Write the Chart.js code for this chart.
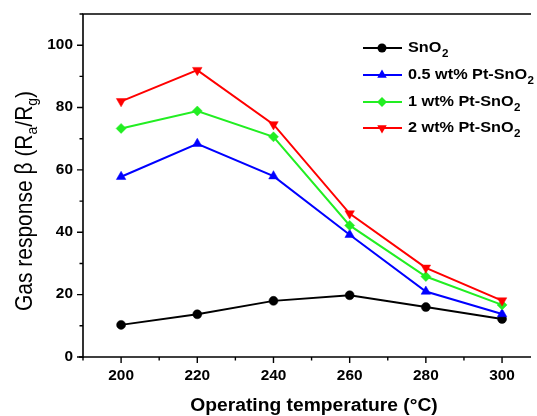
<!DOCTYPE html>
<html><head><meta charset="utf-8">
<script src="https://cdn.jsdelivr.net/npm/chart.js@4/dist/chart.umd.min.js"></script>
<style>html,body{margin:0;padding:0;background:#fff}#wrap{width:537px;height:416px}</style>
</head><body><div id="wrap"><canvas id="c" width="537" height="416"></canvas></div>
<script>
const temperatures = [200, 220, 240, 260, 280, 300];
const sno2 = [10.3, 13.7, 18.0, 19.8, 16.0, 12.2];
const pt05 = [57.8, 68.4, 58.0, 39.2, 21.0, 13.8];
const pt1 = [73.3, 78.9, 70.6, 42.2, 25.8, 16.7];
const pt2 = [82.0, 92.0, 74.6, 46.0, 28.6, 18.1];
const seriesNames = ['SnO', '0.5 wt% Pt-SnO', '1 wt% Pt-SnO', '2 wt% Pt-SnO'];
const xTicks = [200, 220, 240, 260, 280, 300];
const yTicks = [0, 20, 40, 60, 80, 100];

const colors = ['#000000', '#0000ff', '#22ee22', '#ff0000'];
const styles = ['circle', 'triangle', 'rectRot', 'triangle'];
const rots = [0, 0, 0, 180];
const radii = [4.5, 5.5, 5, 5.5];
const vals = [sno2, pt05, pt1, pt2];

const datasets = vals.map((v, i) => ({
  label: seriesNames[i],
  data: temperatures.map((t, j) => ({x: t, y: v[j]})),
  borderColor: colors[i], backgroundColor: colors[i],
  borderWidth: 2, pointStyle: styles[i], pointRotation: rots[i],
  pointRadius: radii[i], pointBorderWidth: 0.5, tension: 0, order: 4 - i
}));

const FONT = '"Liberation Sans", Arial, sans-serif';

function stretchText(ctx, txt, x, y, sx, align) {
  const w = ctx.measureText(txt).width * sx;
  let x0 = x;
  if (align === 'center') x0 = x - w / 2;
  else if (align === 'right') x0 = x - w;
  ctx.save();
  ctx.translate(x0, y); ctx.scale(sx, 1);
  ctx.textAlign = 'left';
  ctx.fillText(txt, 0, 0);
  ctx.restore();
  return w;
}

const deco = {
  id: 'deco',
  afterDraw(chart) {
    const ctx = chart.ctx, a = chart.chartArea;
    const xs = chart.scales.x, ys = chart.scales.y;
    ctx.save();
    ctx.strokeStyle = '#000'; ctx.lineWidth = 1.6;
    ctx.beginPath();
    ctx.moveTo(a.left, a.bottom + 1); ctx.lineTo(a.left, a.top);
    ctx.lineTo(a.right, a.top);
    ctx.moveTo(a.left - 4, a.bottom); ctx.lineTo(a.right, a.bottom);
    ctx.stroke();
    ctx.lineWidth = 1.4;
    ctx.beginPath();
    for (let v = 0; v <= 110; v += 10) {
      const y = ys.getPixelForValue(v);
      const len = (v % 20 === 0) ? 6 : 3.5;
      ctx.moveTo(a.left, y); ctx.lineTo(a.left - len, y);
    }
    for (let v = 190; v <= 307; v += 10) {
      const x = xs.getPixelForValue(v);
      const len = (v % 20 === 0) ? 6 : 3.5;
      ctx.moveTo(x, a.bottom); ctx.lineTo(x, a.bottom + len);
    }
    ctx.stroke();
    ctx.fillStyle = '#000';
    ctx.font = 'bold 14px ' + FONT;
    ctx.textBaseline = 'middle';
    yTicks.forEach(v => stretchText(ctx, String(v), a.left - 10, ys.getPixelForValue(v), 1.1, 'right'));
    xTicks.forEach(v => stretchText(ctx, String(v), xs.getPixelForValue(v), 376, 1.1, 'center'));
    // x title
    ctx.font = 'bold 18px ' + FONT;
    stretchText(ctx, 'Operating temperature (°C)', 314, 406, 1.07, 'center');
    // y title with subscripts
    ctx.save();
    ctx.translate(26, 201);
    ctx.scale(1.1, 1);
    ctx.rotate(-Math.PI / 2);
    const parts = [['Gas response β (R', 0], ['a', 1], ['/R', 0], ['g', 1], [')', 0]];
    const fmain = '21px ' + FONT, fsub = '14px ' + FONT;
    let w = 0;
    parts.forEach(p => { ctx.font = p[1] ? fsub : fmain; w += ctx.measureText(p[0]).width; });
    let x = -w / 2;
    ctx.textAlign = 'left'; ctx.textBaseline = 'middle';
    parts.forEach(p => {
      ctx.font = p[1] ? fsub : fmain;
      ctx.fillText(p[0], x, p[1] ? 6 : 0);
      x += ctx.measureText(p[0]).width;
    });
    ctx.restore();
    // legend
    const ly = [48, 75, 102, 128];
    ly.forEach((y, i) => {
      ctx.strokeStyle = colors[i]; ctx.lineWidth = 2;
      ctx.beginPath(); ctx.moveTo(363, y); ctx.lineTo(402, y); ctx.stroke();
      ctx.fillStyle = colors[i];
      Chart.helpers.drawPoint(ctx, {pointStyle: styles[i], rotation: rots[i], radius: radii[i], borderWidth: 0}, 382, y);
      ctx.fillStyle = '#000';
      ctx.font = 'bold 14px ' + FONT; ctx.textBaseline = 'middle';
      const tw = stretchText(ctx, seriesNames[i], 408, y, 1.16, 'left');
      ctx.font = 'bold 10px ' + FONT;
      stretchText(ctx, '2', 408 + tw + 0.5, y + 6, 1.16, 'left');
    });
    ctx.restore();
  }
};

new Chart(document.getElementById('c'), {
  type: 'line',
  data: {datasets},
  options: {
    responsive: false, animation: false, devicePixelRatio: 1,
    layout: {padding: {top: 14, right: 0, left: 0, bottom: 0}},
    plugins: {legend: {display: false}, tooltip: {enabled: false}},
    scales: {
      x: {type: 'linear', min: 190, max: 307.6,
          grid: {display: false}, border: {display: false},
          ticks: {display: false},
          afterFit(s) { s.height = 59; }},
      y: {min: 0, max: 110,
          grid: {display: false}, border: {display: false},
          ticks: {display: false},
          afterFit(s) { s.width = 83; }}
    }
  },
  plugins: [deco]
});
</script></body></html>
